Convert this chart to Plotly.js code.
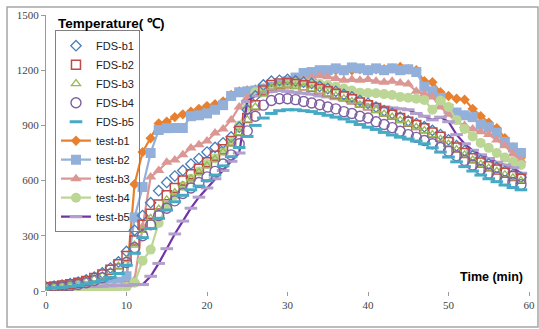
<!DOCTYPE html>
<html>
<head>
<meta charset="utf-8">
<script src="https://cdn.plot.ly/plotly-3.0.1.min.js"></script>
<style>
html,body{margin:0;padding:0;background:#fff;}
#chart{width:539px;height:329px;}
</style>
</head>
<body>
<div id="chart"></div>
<script>
var time = [0,1,2,3,4,5,6,7,8,9,10,11,12,13,14,15,16,17,18,19,20,21,22,23,24,25,26,27,28,29,30,31,32,33,34,35,36,37,38,39,40,41,42,43,44,45,46,47,48,49,50,51,52,53,54,55,56,57,58,59];

var fdsB1 = [22,26,32,40,48,60,75,98,125,158,215,330,410,480,545,590,625,655,690,720,755,780,805,837,890,985,1060,1120,1140,1145,1150,1142,1135,1128,1112,1100,1085,1068,1055,1035,1020,1000,980,965,945,925,910,893,873,850,822,790,762,735,710,690,670,650,633,618];
var fdsB2 = [20,24,30,37,45,55,70,90,115,145,190,275,360,420,470,520,560,600,635,665,700,735,770,815,870,940,1010,1090,1120,1128,1130,1125,1118,1110,1098,1085,1072,1058,1042,1025,1010,995,975,958,940,920,902,885,862,838,810,780,750,722,698,678,660,642,625,610];
var fdsB3 = [18,22,27,34,42,52,65,82,105,135,170,250,330,395,445,495,535,575,610,645,680,715,755,800,860,930,1000,1070,1105,1115,1118,1112,1105,1098,1085,1072,1060,1045,1030,1012,998,982,962,945,928,908,890,872,850,825,798,768,740,712,688,668,650,632,615,600];
var fdsB4 = [15,18,22,28,35,45,57,72,92,120,155,235,300,360,410,450,490,530,560,590,620,650,690,740,800,870,950,1010,1035,1045,1045,1040,1030,1022,1012,1000,990,975,965,950,940,920,905,888,868,850,835,818,800,780,760,735,710,685,660,640,620,600,590,578];
var fdsB5 = [15,17,20,25,30,38,48,60,75,95,140,205,290,340,395,440,485,520,550,570,600,630,680,730,780,840,900,940,965,980,985,985,980,975,965,955,945,935,920,905,890,878,862,848,836,826,815,800,778,755,728,702,676,652,630,610,594,576,562,550];

var testB1 = [15,17,18,20,22,25,28,32,38,45,60,580,755,830,910,920,945,960,975,990,1005,1015,1030,1065,1085,1090,1095,1100,1110,1120,1130,1150,1170,1180,1190,1190,1200,1195,1200,1205,1200,1205,1205,1210,1218,1205,1200,1140,1135,1080,1060,1045,1040,990,950,915,885,830,780,725];
var testB2 = [20,20,22,23,25,28,30,35,40,50,80,400,565,750,875,885,886,886,950,955,965,985,1010,1060,1080,1085,1090,1100,1110,1120,1140,1160,1185,1190,1200,1200,1210,1200,1215,1210,1200,1210,1200,1210,1200,1205,1190,1110,1085,1050,990,970,955,945,905,890,860,810,780,750];
var testB3 = [10,10,10,10,10,12,12,14,16,20,30,60,350,620,655,700,712,740,777,795,815,859,880,930,1000,1050,1080,1100,1110,1120,1130,1140,1150,1160,1170,1165,1155,1145,1150,1145,1150,1140,1135,1140,1130,1125,1085,1070,1055,1000,960,920,900,880,865,850,820,790,745,710];
var testB4 = [12,12,12,12,12,12,14,15,16,18,22,45,165,225,370,460,520,570,610,650,690,720,760,810,900,1000,1080,1090,1100,1110,1120,1130,1135,1130,1125,1120,1110,1100,1090,1078,1076,1075,1070,1065,1055,1050,1045,1038,985,1035,1000,930,880,840,805,778,750,725,702,685];
var testB5 = [20,20,20,22,22,24,25,27,28,30,32,35,35,80,150,230,310,380,450,510,560,610,655,705,750,1030,1060,1080,1085,1090,1085,1080,1075,1070,1060,1055,1045,1040,1030,1020,1010,1005,1000,995,990,985,965,950,930,945,920,850,800,765,740,720,700,685,670,640];

var seriesNames = ['FDS-b1','FDS-b2','FDS-b3','FDS-b4','FDS-b5','test-b1','test-b2','test-b3','test-b4','test-b5'];

function fds(name, y, sym, color, size, lw, rank) {
  return {x: time, y: y, name: name, type: 'scatter', mode: 'markers', legendrank: rank,
    marker: {symbol: sym, size: size, color: color, line: {color: color, width: lw}}};
}
function fdsDash(name, y, color, rank) {
  return {x: time, y: y, name: name, type: 'scatter', mode: 'markers', legendrank: rank,
    marker: {symbol: 'line-ew', size: 9, color: color, line: {color: color, width: 3}}};
}
function test(name, y, lineColor, sym, markColor, size, rank) {
  var m = {symbol: sym, size: size, color: markColor};
  if (sym === 'line-ew') m.line = {color: markColor, width: 3};
  return {x: time, y: y, name: name, type: 'scatter', mode: 'lines+markers', legendrank: rank,
    line: {color: lineColor, width: 2.2}, marker: m};
}

var traces = [
  test(seriesNames[5], testB1, '#E8812F', 'diamond', '#E8812F', 8, 6),
  test(seriesNames[6], testB2, '#93B0DA', 'square', '#93B0DA', 10, 7),
  test(seriesNames[7], testB3, '#DB9794', 'triangle-up', '#DB9794', 10, 8),
  test(seriesNames[8], testB4, '#BCD696', 'circle', '#BCD696', 10, 9),
  test(seriesNames[9], testB5, '#7333A8', 'line-ew', '#B19FCC', 9, 10),
  fds(seriesNames[0], fdsB1, 'diamond-open', '#4A7EBB', 8, 1.3, 1),
  fds(seriesNames[1], fdsB2, 'square-open', '#BE4B48', 9, 1.5, 2),
  fds(seriesNames[2], fdsB3, 'triangle-up-open', '#98B954', 8, 1.3, 3),
  fds(seriesNames[3], fdsB4, 'circle-open', '#7D60A0', 10, 1.4, 4),
  fdsDash(seriesNames[4], fdsB5, '#46AAC5', 5)
];

var yTicks = [0,300,600,900,1200,1500];
var xTicks = [0,10,20,30,40,50,60];

var layout = {
  width: 539, height: 329,
  margin: {l: 46, r: 10, t: 15, b: 38},
  paper_bgcolor: '#fff', plot_bgcolor: '#fff',
  showlegend: true,
  legend: {x: 0.0186, y: 0.945, xanchor: 'left', yanchor: 'top',
    bgcolor: 'rgba(255,255,255,0)', bordercolor: '#808080', borderwidth: 1,
    font: {family: 'Liberation Sans, Arial, sans-serif', size: 11, color: '#222'},
    tracegroupgap: 0, traceorder: 'normal'},
  xaxis: {range: [0, 60], tickvals: xTicks, ticktext: xTicks.map(String),
    showgrid: false, zeroline: false, showline: false,
    ticks: 'outside', ticklen: 4, tickcolor: '#9a9a9a', tickwidth: 1,
    tickfont: {family: 'Liberation Serif, serif', size: 11, color: '#444'}},
  yaxis: {range: [0, 1500], tickvals: yTicks, ticktext: yTicks.map(String),
    showgrid: false, zeroline: false, showline: true, linecolor: '#9a9a9a', linewidth: 1,
    ticks: 'outside', ticklen: 4, tickcolor: '#9a9a9a', tickwidth: 1,
    tickfont: {family: 'Liberation Serif, serif', size: 11, color: '#444'}},
  annotations: [
    {text: '<b>Temperature( ℃)</b>', xref: 'paper', yref: 'paper', x: 0.0207, y: 0.971,
     xanchor: 'left', yanchor: 'middle', showarrow: false,
     font: {family: 'Liberation Sans, Arial, sans-serif', size: 13.5, color: '#000'}},
    {text: '<b>Time (min)</b>', xref: 'paper', yref: 'paper', x: 0.9917, y: 0.0507,
     xanchor: 'right', yanchor: 'middle', showarrow: false,
     font: {family: 'Liberation Sans, Arial, sans-serif', size: 12.5, color: '#000'}}
  ],
  shapes: [
    {type: 'rect', xref: 'paper', yref: 'paper', x0: -0.0807, x1: 1.0186, y0: -0.1304, y1: 1.029,
     line: {color: '#a6a6a6', width: 1.5}, fillcolor: 'rgba(0,0,0,0)', layer: 'below'}
  ]
};

Plotly.newPlot('chart', traces, layout, {staticPlot: true, displayModeBar: false});
</script>
</body>
</html>
